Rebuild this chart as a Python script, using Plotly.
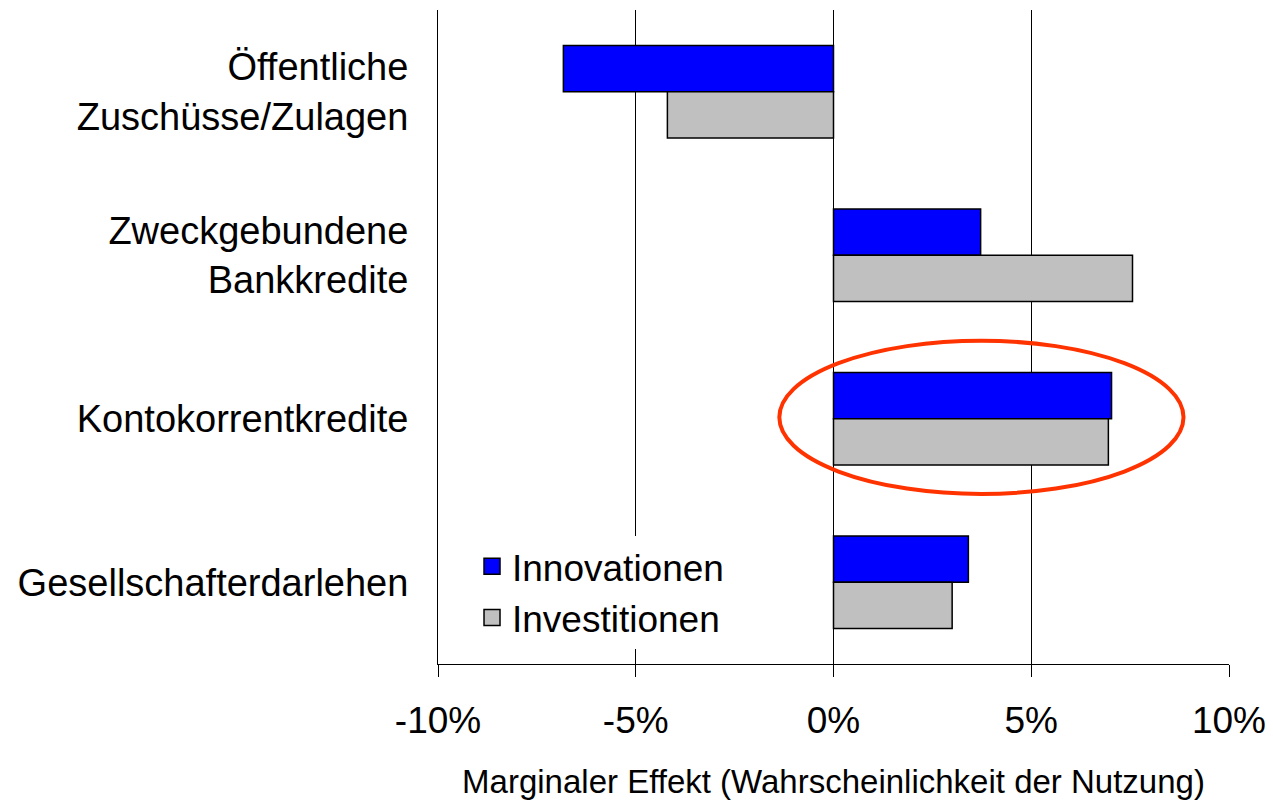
import plotly.graph_objects as go

categories = ["Öffentliche<br>Zuschüsse/Zulagen", "Zweckgebundene<br>Bankkredite",
              "Kontokorrentkredite", "Gesellschafterdarlehen"]
innovationen = [-6.83, 3.72, 7.03, 3.41]
investitionen = [-4.2, 7.56, 6.95, 3.0]
tick_vals = [-10, -5, 0, 5, 10]
tick_text = ["-10%", "-5%", "0%", "5%", "10%"]

FONT = "Liberation Sans, Arial, sans-serif"
fig = go.Figure()
fig.add_trace(go.Bar(y=categories, x=innovationen, orientation="h", name="Innovationen",
                     marker=dict(color="#0000FF", line=dict(color="black", width=1.5)),
                     showlegend=False))
fig.add_trace(go.Bar(y=categories, x=investitionen, orientation="h", name="Investitionen",
                     marker=dict(color="#C0C0C0", line=dict(color="black", width=1.5)),
                     showlegend=False))
# legend proxies
fig.add_trace(go.Scatter(x=[None], y=[None], mode="markers", name="Innovationen",
                         marker=dict(symbol="square", size=22, color="#0000FF",
                                     line=dict(color="black", width=1.5))))
fig.add_trace(go.Scatter(x=[None], y=[None], mode="markers", name="Investitionen",
                         marker=dict(symbol="square", size=22, color="#C0C0C0",
                                     line=dict(color="black", width=1.5))))

# highlight ellipse around Kontokorrentkredite
fig.add_shape(type="circle", xref="x", yref="y", x0=-1.37, x1=8.85, y0=2 - 0.477, y1=2 + 0.46,
              line=dict(color="#FF3300", width=4), fillcolor="rgba(0,0,0,0)")

fig.update_layout(
    width=1265, height=795,
    margin=dict(l=430, r=44, t=2, b=139),
    paper_bgcolor="white", plot_bgcolor="white",
    barmode="group", bargap=0.434, bargroupgap=0,
    font=dict(family=FONT, size=37, color="black"),
    showlegend=True,
    legend=dict(x=0.043, y=0.196, xanchor="left", yanchor="top",
                bgcolor="white", font=dict(size=37, family=FONT), itemsizing="trace",
                tracegroupgap=0),
    xaxis=dict(range=[-10, 10], tickvals=tick_vals, ticktext=tick_text,
               showgrid=True, gridcolor="black", gridwidth=1,
               zeroline=True, zerolinecolor="black", zerolinewidth=1,
               showline=True, linecolor="black", linewidth=1,
               ticks="outside", ticklen=12, tickcolor="black",
               tickfont=dict(size=37), ticklabelstandoff=12, automargin=False,
               title=dict(text="Marginaler Effekt (Wahrscheinlichkeit der Nutzung)",
                          font=dict(size=33), standoff=29)),
    yaxis=dict(autorange="reversed", showgrid=False, ticks="",
               showline=True, linecolor="black", linewidth=1,
               tickfont=dict(size=38), ticklabelstandoff=21, automargin=False),
)
fig.write_html("out.html")
